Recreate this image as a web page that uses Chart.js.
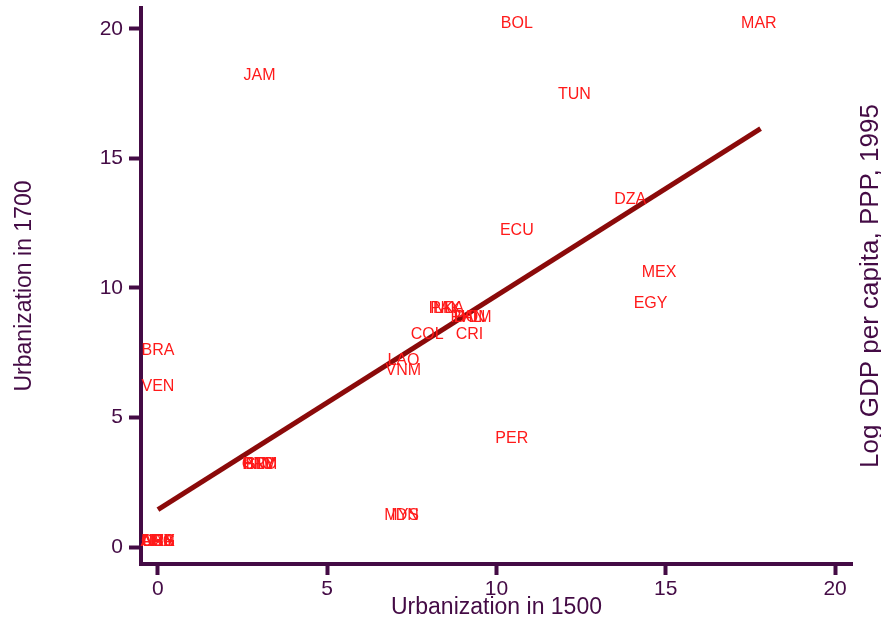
<!DOCTYPE html>
<html>
<head>
<meta charset="utf-8">
<script src="https://cdn.jsdelivr.net/npm/chart.js@4.4.0/dist/chart.umd.min.js"></script>
<style>
  html, body { margin: 0; padding: 0; background: #ffffff; }
  #wrap { width: 881px; height: 624px; }
</style>
</head>
<body>
<div id="wrap"><canvas id="urbChart" width="881" height="624"></canvas></div>
<script>
// ================= DATOS =================
const countries = [
  "BOL", "MAR", "JAM", "TUN", "DZA", "ECU", "MEX", "EGY",
  "BRA", "VEN", "COL", "CRI", "LAO", "VNM", "PER",
  "IDN", "MYS",
  "IND", "PAK", "LKA",
  "PHL", "PAN", "DOM",
  "HND", "NIC", "SLV", "GTM", "PRY",
  "USA", "CAN", "AUS", "NZL", "ARG", "URY"
];
const urban1500 = [
  10.6, 17.75, 3.0, 12.3, 13.95, 10.6, 14.8, 14.55,
  0, 0, 7.95, 9.2, 7.25, 7.25, 10.45,
  7.3, 7.2,
  8.4, 8.5, 8.6,
  9.1, 9.2, 9.3,
  3.0, 3.0, 3.0, 3.0, 3.0,
  0, 0, 0, 0, 0, 0
];
const urban1700 = [
  20.2, 20.2, 18.2, 17.45, 13.4, 12.2, 10.6, 9.4,
  7.6, 6.2, 8.2, 8.2, 7.2, 6.8, 4.2,
  1.2, 1.2,
  9.2, 9.2, 9.2,
  8.85, 8.85, 8.85,
  3.2, 3.2, 3.2, 3.2, 3.2,
  0.2, 0.2, 0.2, 0.2, 0.2, 0.2
];

// recta ajustada (extremos)
const fitX = [0, 17.8];
const fitY = [1.45, 16.15];

const xTicks = [0, 5, 10, 15, 20];
const yTicks = [0, 5, 10, 15, 20];

const axisColor = "#440b45";
const labelColor = "#ff1a1a";
const fontFamily = "'Liberation Sans', Arial, sans-serif";

// ================= PLUGINS =================
const countryLabels = {
  id: "countryLabels",
  afterDatasetsDraw(chart) {
    const c = chart.ctx;
    const meta = chart.getDatasetMeta(0);
    c.save();
    c.fillStyle = labelColor;
    c.font = "16px " + fontFamily;
    c.textAlign = "center";
    c.textBaseline = "middle";
    meta.data.forEach((pt, i) => {
      c.fillText(countries[i], pt.x, pt.y);
    });
    c.restore();
  }
};

const rightTitle = {
  id: "rightTitle",
  afterDraw(chart) {
    const c = chart.ctx;
    const area = chart.chartArea;
    c.save();
    c.translate(871, (area.top + area.bottom) / 2);
    c.rotate(-Math.PI / 2);
    c.fillStyle = axisColor;
    c.font = "26px " + fontFamily;
    c.textAlign = "center";
    c.textBaseline = "middle";
    c.fillText("Log GDP per capita, PPP, 1995", 0, 0);
    c.restore();
  }
};

// ================= GRÁFICA =================
const ctx = document.getElementById("urbChart");

const pointData = urban1500.map((x, i) => ({ x: x, y: urban1700[i] }));
const fitData = fitX.map((x, i) => ({ x: x, y: fitY[i] }));

new Chart(ctx, {
  type: "scatter",
  data: {
    datasets: [
      {
        label: "Países",
        data: pointData,
        pointRadius: 0,
        pointHoverRadius: 0,
        showLine: false
      },
      {
        label: "Ajuste",
        data: fitData,
        showLine: true,
        borderColor: "#8b0a0a",
        borderWidth: 5,
        pointRadius: 0,
        fill: false
      }
    ]
  },
  options: {
    responsive: false,
    animation: false,
    layout: { padding: { top: 8, right: 29, left: 0, bottom: 0 } },
    plugins: {
      legend: { display: false },
      tooltip: { enabled: false }
    },
    scales: {
      x: {
        type: "linear",
        min: -0.5,
        max: 20.5,
        afterBuildTicks(scale) { scale.ticks = xTicks.map(v => ({ value: v })); },
        afterFit(scale) {
          scale.height = 60;
          scale.paddingLeft = 0;
          scale.paddingRight = 0;
        },
        border: { display: true, color: axisColor, width: 4 },
        grid: {
          drawOnChartArea: false,
          drawTicks: true,
          tickLength: 11,
          tickWidth: 4,
          tickColor: axisColor
        },
        ticks: {
          color: axisColor,
          font: { size: 21, family: fontFamily, lineHeight: 1.1 },
          padding: 3
        },
        title: {
          display: true,
          text: "Urbanization in 1500",
          color: axisColor,
          font: { size: 23, family: fontFamily, lineHeight: 1.1 },
          padding: { top: 0, bottom: 4 }
        }
      },
      y: {
        type: "linear",
        min: -0.65,
        max: 20.8,
        afterBuildTicks(scale) { scale.ticks = yTicks.map(v => ({ value: v })); },
        afterFit(scale) {
          scale.width = 141;
          scale.paddingTop = 0;
          scale.paddingBottom = 0;
        },
        border: { display: true, color: axisColor, width: 4 },
        grid: {
          drawOnChartArea: false,
          drawTicks: true,
          tickLength: 12,
          tickWidth: 4,
          tickColor: axisColor
        },
        ticks: {
          color: axisColor,
          font: { size: 21, family: fontFamily },
          padding: 6
        },
        title: {
          display: true,
          text: "Urbanization in 1700",
          color: axisColor,
          font: { size: 23, family: fontFamily, lineHeight: 1.1 },
          padding: { top: 12, bottom: 0 }
        }
      }
    }
  },
  plugins: [countryLabels, rightTitle]
});
</script>
</body>
</html>
